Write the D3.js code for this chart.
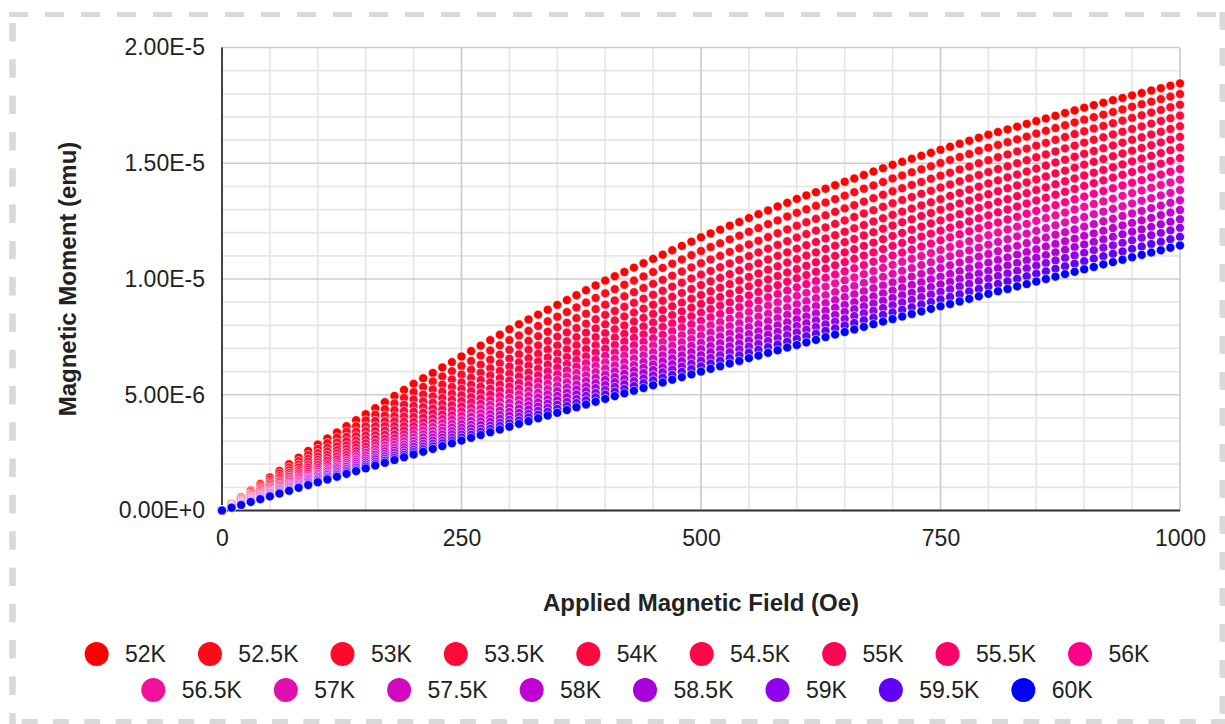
<!DOCTYPE html>
<html>
<head>
<meta charset="utf-8">
<script src="https://cdn.jsdelivr.net/npm/d3@7"></script>
<style>
  body { margin: 0; background: #fff; }
  svg { display: block; font-family: "Liberation Sans", Arial, sans-serif; }
</style>
</head>
<body>
<script>
// applied field (Oe), one point every 10 Oe
const fieldOe = [0,10,20,30,40,50,60,70,80,90,100,110,120,130,140,150,160,170,180,190,200,
  210,220,230,240,250,260,270,280,290,300,310,320,330,340,350,360,370,380,390,400,
  410,420,430,440,450,460,470,480,490,500,510,520,530,540,550,560,570,580,590,600,
  610,620,630,640,650,660,670,680,690,700,710,720,730,740,750,760,770,780,790,800,
  810,820,830,840,850,860,870,880,890,900,910,920,930,940,950,960,970,980,990,1000];

const temps = ["52K","52.5K","53K","53.5K","54K","54.5K","55K","55.5K","56K",
  "56.5K","57K","57.5K","58K","58.5K","59K","59.5K","60K"];

const colors = ["#ff0000","#ff0a18","#ff0a28","#ff0a38","#ff0840","#ff0648","#ff0452","#ff0268","#ff0088",
  "#f0109c","#e010b0","#d008c0","#c000d0","#a800d8","#9000e8","#6000f6","#0000ff"];

// magnetic moment, in units of 1e-8 emu
const m52 = [0,29,57,86,114,143,171,200,228,257,285,311,337,364,390,416,442,468,495,521,547,
  571,594,618,641,665,689,712,736,759,783,804,825,846,867,888,909,930,951,972,993,
  1012,1030,1049,1068,1087,1105,1124,1143,1161,1180,1197,1213,1230,1246,1263,1280,1296,1313,1329,1346,
  1361,1375,1390,1405,1420,1434,1449,1464,1478,1493,1506,1519,1532,1545,1558,1571,1584,1597,1610,1623,
  1635,1646,1658,1670,1682,1693,1705,1717,1728,1740,1751,1761,1772,1782,1793,1803,1814,1824,1835,1845];
const m52_5 = [0,27,53,80,106,133,160,186,213,239,266,291,315,340,364,389,414,438,463,487,512,
  534,557,579,602,624,646,669,691,714,736,756,776,797,817,837,857,877,898,918,938,
  956,975,993,1011,1030,1048,1066,1084,1103,1121,1138,1154,1171,1187,1204,1220,1237,1253,1270,1286,
  1301,1316,1330,1345,1360,1375,1390,1404,1419,1434,1447,1461,1474,1487,1501,1514,1527,1540,1554,1567,
  1579,1591,1603,1615,1628,1640,1652,1664,1676,1688,1699,1710,1721,1732,1744,1755,1766,1777,1788,1799];
const m53 = [0,25,50,74,99,124,149,174,198,223,248,271,294,318,341,364,387,410,434,457,480,
  501,523,544,566,587,608,630,651,673,694,714,733,753,772,792,811,831,850,870,889,
  907,925,943,961,979,996,1014,1032,1050,1068,1084,1100,1117,1133,1149,1165,1181,1198,1214,1230,
  1245,1260,1275,1290,1305,1319,1334,1349,1364,1379,1392,1406,1419,1433,1446,1459,1473,1486,1500,1513,
  1526,1538,1551,1563,1576,1588,1601,1613,1626,1638,1650,1661,1673,1684,1696,1707,1719,1730,1742,1753];
const m53_5 = [0,23,47,70,93,117,140,163,186,210,233,255,277,299,321,343,364,386,408,430,452,
  472,493,513,534,554,574,595,615,636,656,675,694,713,732,751,769,788,807,826,845,
  862,880,897,915,932,949,967,984,1002,1019,1035,1051,1067,1083,1099,1115,1131,1147,1163,1179,
  1194,1209,1223,1238,1253,1268,1283,1297,1312,1327,1341,1354,1368,1381,1395,1408,1422,1435,1449,1462,
  1475,1487,1500,1513,1526,1538,1551,1564,1576,1589,1601,1612,1624,1636,1648,1659,1671,1683,1694,1706];
const m54 = [0,22,44,66,88,110,131,153,175,197,219,240,261,281,302,323,344,365,385,406,427,
  447,466,486,505,525,544,564,583,603,622,640,658,677,695,713,731,749,768,786,804,
  821,838,855,872,889,906,923,940,957,974,990,1005,1021,1037,1053,1068,1084,1100,1115,1131,
  1146,1160,1175,1189,1204,1219,1233,1248,1262,1277,1291,1304,1318,1331,1345,1359,1372,1386,1399,1413,
  1426,1439,1451,1464,1477,1490,1503,1515,1528,1541,1553,1565,1577,1589,1601,1612,1624,1636,1648,1660];
const m54_5 = [0,21,41,62,83,104,124,145,166,186,207,227,246,266,286,306,325,345,365,384,404,
  423,441,460,479,498,516,535,554,572,591,609,626,644,661,679,696,714,731,749,766,
  783,799,816,832,849,865,882,898,915,931,947,962,978,993,1009,1024,1040,1055,1071,1086,
  1101,1115,1130,1144,1159,1173,1188,1202,1217,1231,1245,1258,1272,1285,1299,1312,1326,1339,1353,1366,
  1379,1392,1404,1417,1430,1443,1456,1468,1481,1494,1506,1518,1530,1542,1554,1566,1578,1590,1602,1614];
const m55 = [0,20,39,59,78,98,118,137,157,176,196,215,233,252,271,290,308,327,346,364,383,
  401,419,437,455,473,490,508,526,544,562,579,596,613,630,647,663,680,697,714,731,
  747,763,779,795,812,828,844,860,876,892,907,922,937,952,968,983,998,1013,1028,1043,
  1057,1072,1086,1100,1115,1129,1143,1157,1172,1186,1199,1213,1226,1240,1253,1266,1280,1293,1307,1320,
  1333,1345,1358,1371,1384,1396,1409,1422,1434,1447,1459,1471,1483,1495,1508,1520,1532,1544,1556,1568];
const m55_5 = [0,19,37,56,74,93,111,130,148,167,185,203,221,239,257,275,292,310,328,346,364,
  381,398,415,432,450,467,484,501,518,535,551,568,584,601,617,633,650,666,683,699,
  715,730,746,761,777,793,808,824,839,855,870,885,899,914,929,944,959,973,988,1003,
  1017,1031,1045,1059,1073,1087,1101,1115,1129,1143,1156,1169,1183,1196,1209,1222,1235,1249,1262,1275,
  1288,1300,1313,1326,1339,1351,1364,1377,1389,1402,1414,1426,1438,1450,1462,1474,1486,1498,1510,1522];
const m56 = [0,18,35,53,70,88,106,123,141,158,176,193,210,227,244,261,278,295,312,329,346,
  362,379,395,412,428,444,461,477,494,510,526,542,557,573,589,605,621,636,652,668,
  683,698,714,729,744,759,774,790,805,820,834,849,863,878,892,906,921,935,950,964,
  978,991,1005,1019,1033,1046,1060,1074,1087,1101,1114,1127,1140,1153,1167,1180,1193,1206,1219,1232,
  1244,1257,1269,1282,1294,1306,1319,1331,1344,1356,1368,1380,1392,1404,1416,1427,1439,1451,1463,1475];
const m56_5 = [0,17,33,50,67,84,100,117,134,150,167,183,200,216,232,249,265,281,297,314,330,
  346,361,377,393,409,424,440,456,471,487,502,518,533,548,564,579,594,609,625,640,
  655,669,684,698,713,728,742,757,771,786,800,814,828,842,857,871,885,899,913,927,
  940,954,967,981,994,1007,1021,1034,1048,1061,1074,1087,1099,1112,1125,1138,1151,1163,1176,1189,
  1201,1214,1226,1238,1251,1263,1275,1287,1300,1312,1324,1335,1347,1359,1371,1382,1394,1406,1417,1429];
const m57 = [0,16,32,48,64,80,95,111,127,143,159,175,190,206,221,237,252,268,283,299,314,
  329,344,359,374,390,405,420,435,450,465,480,495,509,524,539,554,569,583,598,613,
  627,641,656,670,684,698,712,727,741,755,769,782,796,809,823,837,850,864,877,891,
  904,917,930,943,957,970,983,996,1009,1022,1035,1047,1060,1072,1085,1098,1110,1123,1135,1148,
  1160,1172,1184,1196,1208,1220,1232,1244,1256,1268,1280,1291,1303,1314,1326,1338,1349,1361,1372,1384];
const m57_5 = [0,15,30,46,61,76,91,106,122,137,152,167,182,196,211,226,241,256,270,285,300,
  315,329,344,358,373,387,402,416,431,445,459,473,488,502,516,530,544,559,573,587,
  601,615,628,642,656,670,684,697,711,725,738,752,765,778,792,805,818,831,845,858,
  871,883,896,909,922,934,947,960,972,985,997,1010,1022,1034,1047,1059,1071,1083,1096,1108,
  1120,1132,1143,1155,1167,1179,1191,1202,1214,1226,1237,1249,1260,1272,1283,1294,1306,1317,1329,1340];
const m58 = [0,15,29,44,58,73,87,102,116,131,145,159,173,188,202,216,230,244,259,273,287,
  301,315,329,343,357,370,384,398,412,426,440,454,467,481,495,509,523,536,550,564,
  577,591,604,617,631,644,657,670,684,697,710,723,736,749,762,774,787,800,813,826,
  838,851,863,876,888,900,913,925,938,950,962,974,986,998,1010,1022,1034,1046,1058,1070,
  1082,1093,1105,1116,1128,1140,1151,1163,1174,1186,1197,1208,1220,1231,1242,1253,1264,1276,1287,1298];
const m58_5 = [0,14,28,42,56,70,83,97,111,125,139,153,166,180,193,207,221,234,248,261,275,
  288,302,315,329,342,355,369,382,396,409,422,436,449,462,476,489,502,515,529,542,
  555,568,581,594,607,619,632,645,658,671,684,696,709,721,734,747,759,772,784,797,
  809,821,833,845,858,870,882,894,906,918,930,941,953,965,977,988,1000,1012,1023,1035,
  1046,1058,1069,1081,1092,1103,1115,1126,1138,1149,1160,1171,1182,1193,1204,1214,1225,1236,1247,1258];
const m59 = [0,13,27,40,53,67,80,93,106,120,133,146,159,172,185,198,211,224,237,250,263,
  276,289,302,315,328,340,353,366,379,392,405,418,431,444,457,469,482,495,508,521,
  534,546,559,571,584,597,609,622,634,647,659,671,684,696,708,720,732,745,757,769,
  781,793,804,816,828,840,852,863,875,887,899,910,922,933,945,956,968,979,991,1002,
  1013,1024,1035,1046,1058,1069,1080,1091,1102,1113,1124,1135,1145,1156,1167,1178,1189,1199,1210,1221];
const m59_5 = [0,13,25,38,51,64,76,89,102,114,127,140,152,165,177,190,202,215,227,240,252,
  265,277,290,302,315,327,340,352,365,377,389,402,414,427,439,451,464,476,489,501,
  513,525,538,550,562,574,586,599,611,623,635,647,658,670,682,694,706,717,729,741,
  753,764,776,787,799,810,822,833,845,856,867,878,890,901,912,923,934,946,957,968,
  979,990,1001,1012,1023,1033,1044,1055,1066,1077,1088,1098,1109,1119,1130,1140,1151,1161,1172,1182];
const m60 = [0,12,24,37,49,61,73,85,98,110,122,134,146,158,170,182,194,206,218,230,242,
  254,266,278,290,302,314,326,338,350,362,374,386,398,410,422,434,446,458,470,482,
  494,506,517,529,541,553,565,576,588,600,612,623,635,646,658,669,681,692,704,715,
  726,737,749,760,771,782,793,805,816,827,838,849,860,871,882,892,903,914,925,936,
  947,957,968,978,989,1000,1010,1021,1031,1042,1052,1063,1073,1083,1094,1104,1114,1124,1135,1145];

const xTicks = [0, 250, 500, 750, 1000];
const yTicks = [0, 5e-6, 1e-5, 1.5e-5, 2e-5];

const series = [m52, m52_5, m53, m53_5, m54, m54_5, m55, m55_5, m56,
  m56_5, m57, m57_5, m58, m58_5, m59, m59_5, m60];

const w = 1225, h = 724;
const padL = 222, padR = 1180, padT = 47.5, padB = 510.5;

const svg = d3.select('body').append('svg')
  .attr('width', w)
  .attr('height', h);

svg.append('rect').attr('width', w).attr('height', h).attr('fill', '#fff');

// dashed frame round the picture
const dash = '#d9d9d9';
svg.append('line').attr('x1', 9).attr('x2', w).attr('y1', 14.5).attr('y2', 14.5)
  .attr('stroke', dash).attr('stroke-width', 5).attr('stroke-dasharray', '19 17');
svg.append('line').attr('x1', 12.5).attr('x2', 12.5).attr('y1', 23).attr('y2', h)
  .attr('stroke', dash).attr('stroke-width', 6.5).attr('stroke-dasharray', '18.5 17.8');
svg.append('line').attr('x1', 1222.5).attr('x2', 1222.5).attr('y1', 12).attr('y2', h)
  .attr('stroke', dash).attr('stroke-width', 6).attr('stroke-dasharray', '18 18');
svg.append('line').attr('x1', 21.7).attr('x2', w).attr('y1', 721.5).attr('y2', 721.5)
  .attr('stroke', dash).attr('stroke-width', 5).attr('stroke-dasharray', '16 15.3');

const x = d3.scaleLinear().domain([0, 1000]).range([padL, padR]);
const y = d3.scaleLinear().domain([0, 2e-5]).range([padB, padT]);

// gridlines: minor every 50 Oe / 1e-6 emu, major at the ticks
const xMinor = d3.range(0, 1001, 50).filter(d => xTicks.indexOf(d) < 0);
const yMinor = d3.range(0, 21).map(i => i * 1e-6).filter((d, i) => i % 5 !== 0);
const grid = svg.append('g').attr('stroke-width', 1.7);
grid.selectAll('.vmin').data(xMinor).join('line').attr('class', 'vmin')
  .attr('x1', d => x(d)).attr('x2', d => x(d)).attr('y1', padT).attr('y2', padB)
  .attr('stroke', '#e6e6e6');
grid.selectAll('.hmin').data(yMinor).join('line').attr('class', 'hmin')
  .attr('y1', d => y(d)).attr('y2', d => y(d)).attr('x1', padL).attr('x2', padR)
  .attr('stroke', '#e6e6e6');
grid.selectAll('.vmaj').data(xTicks).join('line').attr('class', 'vmaj')
  .attr('x1', d => x(d)).attr('x2', d => x(d)).attr('y1', padT).attr('y2', padB)
  .attr('stroke', '#cccccc');
grid.selectAll('.hmaj').data(yTicks).join('line').attr('class', 'hmaj')
  .attr('y1', d => y(d)).attr('y2', d => y(d)).attr('x1', padL).attr('x2', padR)
  .attr('stroke', '#cccccc');

// tick labels
const xAxis = d3.axisBottom(x).tickValues(xTicks).tickSize(0).tickPadding(19.5)
  .tickFormat(d3.format('d'));
const gx = svg.append('g').attr('transform', 'translate(0,' + padB + ')').call(xAxis);
const yAxis = d3.axisLeft(y).tickValues(yTicks).tickSize(0).tickPadding(17)
  .tickFormat(d => d.toExponential(2).toUpperCase());
const gy = svg.append('g').attr('transform', 'translate(' + padL + ',0)').call(yAxis);
[gx, gy].forEach(g => {
  g.select('.domain').remove();
  g.selectAll('text').attr('font-size', 23).attr('fill', '#222')
    .attr('font-family', '"Liberation Sans", Arial, sans-serif');
});

// baselines
svg.append('line').attr('x1', padL).attr('x2', padL).attr('y1', padT).attr('y2', padB)
  .attr('stroke', '#333').attr('stroke-width', 1.8);
svg.append('line').attr('x1', padL).attr('x2', padR).attr('y1', padB).attr('y2', padB)
  .attr('stroke', '#333').attr('stroke-width', 1.8);

// points, 52K first so the blue series sits on top
series.forEach((vals, i) => {
  svg.append('g')
    .selectAll('circle')
    .data(vals)
    .join('circle')
    .attr('cx', (d, j) => x(fieldOe[j]))
    .attr('cy', d => y(d * 1e-8))
    .attr('r', 4.5)
    .attr('fill', colors[i])
    .attr('stroke', '#fff')
    .attr('stroke-width', 0.6);
});

// axis titles
svg.append('text')
  .attr('x', (padL + padR) / 2)
  .attr('y', 602)
  .attr('text-anchor', 'middle')
  .attr('dominant-baseline', 'central')
  .attr('font-size', 24)
  .attr('font-weight', 'bold')
  .attr('fill', '#222')
  .text('Applied Magnetic Field (Oe)');
svg.append('text')
  .attr('transform', 'translate(67,' + ((padT + padB) / 2) + ') rotate(-90)')
  .attr('text-anchor', 'middle')
  .attr('dominant-baseline', 'central')
  .attr('font-size', 24)
  .attr('font-weight', 'bold')
  .attr('fill', '#222')
  .text('Magnetic Moment (emu)');

// legend, two centred rows
const rows = [temps.slice(0, 9), temps.slice(9)];
const rowY = [654, 690];
rows.forEach((labels, r) => {
  const g = svg.append('g');
  const items = labels.map(lab => {
    const it = g.append('g');
    const k = temps.indexOf(lab);
    it.append('circle').attr('r', 12).attr('cx', 0).attr('cy', 0).attr('fill', colors[k]);
    const t = it.append('text').attr('x', 28.4).attr('y', 0)
      .attr('dominant-baseline', 'central')
      .attr('font-size', 23).attr('fill', '#222').text(lab);
    return { it, tw: t.node().getComputedTextLength() };
  });
  // marker left edge to text end is 40.4 + text, then 32 px to the next marker
  let total = 0;
  items.forEach((d, i) => { total += 40.4 + d.tw + (i < items.length - 1 ? 32 : 0); });
  let cx = 617 - total / 2 + 12;
  items.forEach(d => {
    d.it.attr('transform', 'translate(' + cx + ',' + rowY[r] + ')');
    cx += 28.4 + d.tw + 44;
  });
});
</script>
</body>
</html>
